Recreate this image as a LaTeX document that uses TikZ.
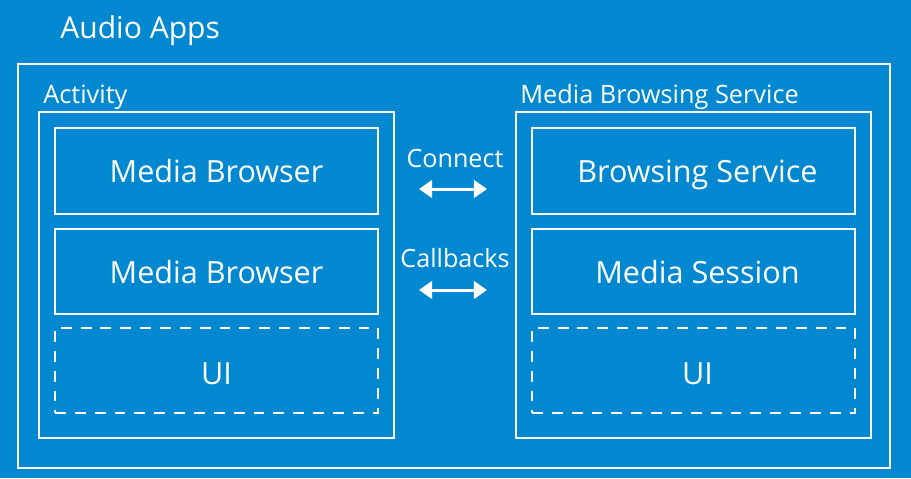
\documentclass[tikz,border=0pt]{standalone}
\usepackage{fontspec}
\setmainfont{Open Sans}
\usetikzlibrary{positioning,arrows.meta}
\definecolor{appblue}{RGB}{2,136,208}

\begin{document}
\begin{tikzpicture}
  [x=0.02cm,y=-0.02cm,
   box/.style={draw=white,line width=1.1pt,inner sep=0pt},
   part/.style={box,minimum width=6.46cm,minimum height=1.71cm,
      text=white,text height=13.6pt,text depth=0pt,
      font=\fontsize{17.4}{20}\selectfont},
   uipart/.style={part,text height=16.4pt,dash pattern=on 6.2pt off 5.1pt},
   lbl/.style={text=white,inner sep=0pt,anchor=base west,
      font=\fontsize{14.4}{16}\selectfont},
   msg/.style={text=white,inner sep=0pt,anchor=base,
      font=\fontsize{14.3}{16}\selectfont},
   link/.style={white,line width=1.7pt,
      {Triangle[length=7.5pt,width=10pt]}-{Triangle[length=7.5pt,width=10pt]}}]
  \fill[appblue] (0,0) rectangle (911,478);
  \useasboundingbox (0,0) rectangle (911,478);

  % outer app box
  \node[box,minimum width=17.44cm,minimum height=8.08cm] (apps) at (454,266) {};
  \node[lbl,font=\fontsize{17.1}{20}\selectfont] (appslbl) at (60,38) {Audio Apps};

  % activity side
  \node[box,minimum width=7.1cm,minimum height=6.52cm] (act) at (216.5,275) {};
  \node[lbl] (actlbl) at (43,103) {Activity};
  \node[part] (mb1) at (216.5,171) {Media Browser};
  \node[part] (mb2) at (216.5,271.5) {Media Browser};
  \node[uipart] (aui) at (216.5,370.5) {UI};

  % service side
  \node[box,minimum width=7.1cm,minimum height=6.52cm] (srv) at (693.5,275) {};
  \node[lbl] (srvlbl) at (520,103) {Media Browsing Service};
  \node[part] (bs) at (693.5,171) {\hspace*{4.5pt}Browsing Service};
  \node[part] (ms) at (693.5,271.5) {\hspace*{4.5pt}Media Session};
  \node[uipart] (sui) at (693.5,370.5) {\hspace*{4.5pt}UI};

  % messages
  \node[msg] (conn) at (455,167) {Connect};
  \node[msg] (cb) at (455,267) {Callbacks};
  \coordinate (c1) at (419,189);
  \coordinate (c2) at (487,189);
  \coordinate (b1) at (419,290);
  \coordinate (b2) at (487,290);
  \draw[link] (c1) -- (c2);
  \draw[link] (b1) -- (b2);
\end{tikzpicture}
\end{document}
